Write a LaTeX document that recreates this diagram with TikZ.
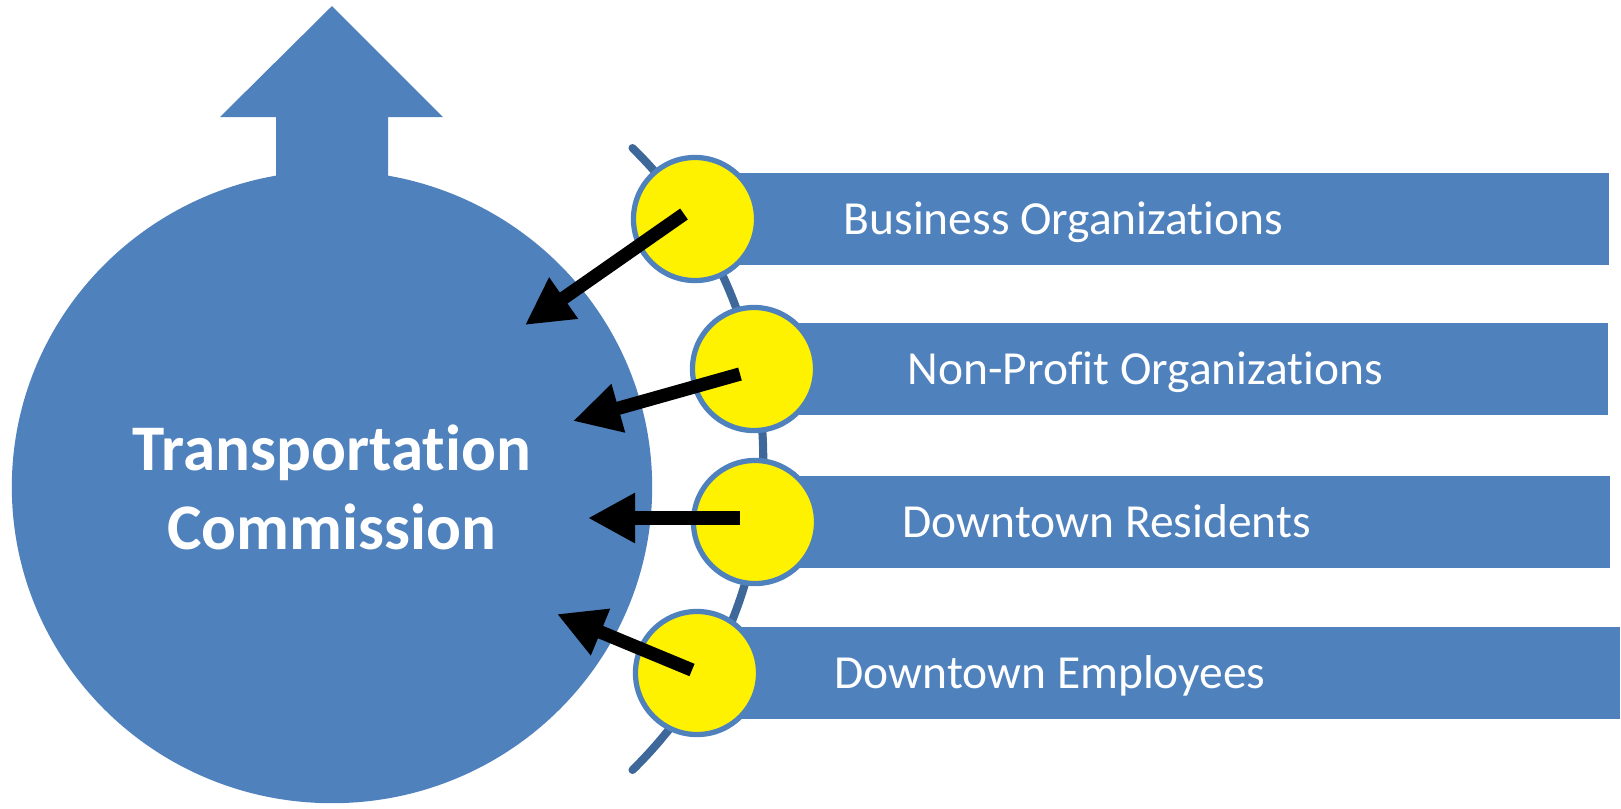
\documentclass[tikz,border=0pt]{standalone}
\usepackage{fontspec}
\setmainfont{Carlito}[Ligatures=NoCommon]
\usetikzlibrary{arrows.meta,shapes.geometric}
\definecolor{officeblue}{RGB}{79,129,189}
\definecolor{arcblue}{RGB}{62,104,153}
\tikzset{
    stakeholder/.style={circle,fill=yellow,draw=officeblue,line width=1.5pt,minimum size=1.23cm,inner sep=0pt},
    bartext/.style={anchor=base west,text=white,inner sep=0pt,font=\fontsize{13.5}{16}\selectfont},
    push/.style={line width=3.8pt,-{Triangle[length=13.4pt,width=13.4pt]}}
}
\begin{document}
\begin{tikzpicture}[x=0.01cm,y=-0.01cm]
\useasboundingbox (0,0) rectangle (1621,808);

\draw[arcblue,line width=2.3pt,line cap=round] (328,459) ++(45.6:4.35cm) arc[start angle=45.6,end angle=-45.6,radius=4.35cm];

\foreach \i/\cx/\cy/\rx/\tx/\txt in {1/695/219/1609/843/Business Organizations,2/754/369/1608/907/Non-Profit Organizations,3/755/522/1610/902/Downtown Residents,4/697/673/1620/834/Downtown Employees} {
    \fill[officeblue] (\cx,\cy-46) rectangle (\rx,\cy+46);
    \node[stakeholder] (stake\i) at (\cx,\cy) {};
    \node[bartext] (label\i) at (\tx,\cy+15) {\txt};
}

\fill[officeblue] (276,220) -- (276,117) -- (220,117) -- (332,6) -- (443,117) -- (388,117) -- (388,220) -- cycle;
\node[ellipse,fill=officeblue,minimum width=6.4cm,minimum height=6.32cm,inner sep=0pt,
    text=white,align=center,font=\fontsize{18.5}{22.5}\selectfont\bfseries] (commission) at (332,487) {Transportation\\Commission};

\coordinate (tail1) at (684,214);
\coordinate (tail2) at (740,374);
\coordinate (tail3) at (740,518);
\coordinate (tail4) at (692,670);
\coordinate (tip1) at (525,325);
\coordinate (tip2) at (573,421);
\coordinate (tip3) at (588,518);
\coordinate (tip4) at (557,614);
\foreach \i in {1,...,4} {
    \draw[push] (tail\i) -- (tip\i);
}
\end{tikzpicture}
\end{document}
